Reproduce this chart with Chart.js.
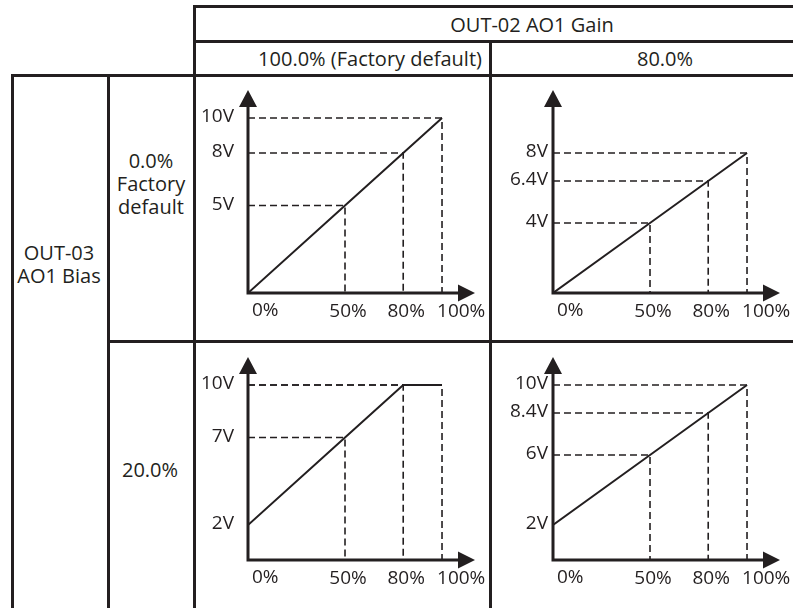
<!DOCTYPE html>
<html>
<head>
<meta charset="utf-8">
<script src="https://cdn.jsdelivr.net/npm/chart.js@4.4.1/dist/chart.umd.min.js"></script>
<style>
  body { margin: 0; background: #fff; }
  #page { position: relative; width: 793px; height: 608px; overflow: hidden; font-family: "Open Sans", sans-serif; color: #231f20; }
  .h, .v { position: absolute; background: #231f20; }
  .h { height: 3px; }
  .v { width: 3px; }
  .txt { position: absolute; font-size: 20px; line-height: 23px; text-align: center; transform: translate(-50%, -50%); white-space: nowrap; }
  canvas { position: absolute; }
</style>
</head>
<body>
<div id="page">
  <!-- table rules -->
  <div class="h" style="left:193px; top:5px; width:600px"></div>
  <div class="h" style="left:193px; top:40px; width:600px"></div>
  <div class="h" style="left:11px; top:74px; width:782px"></div>
  <div class="h" style="left:107px; top:340px; width:686px"></div>
  <div class="v" style="left:193px; top:5px; height:603px"></div>
  <div class="v" style="left:489px; top:40px; height:568px"></div>
  <div class="v" style="left:11px; top:74px; height:534px"></div>
  <div class="v" style="left:107px; top:74px; height:534px"></div>

  <!-- headings -->
  <div class="txt" style="left:532px; top:24px">OUT-02 AO1 Gain</div>
  <div class="txt" style="left:370px; top:58px">100.0% (Factory default)</div>
  <div class="txt" style="left:665px; top:58px">80.0%</div>
  <div class="txt" style="left:59px; top:264px">OUT-03<br>AO1 Bias</div>
  <div class="txt" style="left:151px; top:183px">0.0%<br>Factory<br>default</div>
  <div class="txt" style="left:150px; top:469px">20.0%</div>

  <canvas id="cA" width="292" height="263" style="left:196px; top:77px"></canvas>
  <canvas id="cB" width="301" height="263" style="left:492px; top:77px"></canvas>
  <canvas id="cC" width="292" height="265" style="left:196px; top:343px"></canvas>
  <canvas id="cD" width="301" height="265" style="left:492px; top:343px"></canvas>
</div>

<script>
// input signal (%) and the labels under the x axis
const inputPct = [0, 50, 80, 100];
const xTickLabels = ["0%", "50%", "80%", "100%"];
const guidePct = [50, 80, 100];

// AO1 output voltage (V) at each inputPct
const outGain100Bias0 = [0, 5, 8, 10];
const outGain80Bias0 = [0, 4, 6.4, 8];
const outGain100Bias20 = [2, 7, 10, 10];
const outGain80Bias20 = [2, 6, 8.4, 10];

// voltage labels on the y axis
const voltTicksA = [10, 8, 5];
const voltTicksB = [8, 6.4, 4];
const voltTicksC = [10, 7, 2];
const voltTicksD = [10, 8.4, 6, 2];

const INK = "#231f20";

const arrowAxes = {
  id: "arrowAxes",
  afterDatasetsDraw(chart, args, opts) {
    const { ctx, chartArea, scales: { x, y } } = chart;
    const x0 = x.getPixelForValue(0);
    const y0 = y.getPixelForValue(0);
    ctx.save();
    ctx.strokeStyle = INK;
    ctx.fillStyle = INK;
    ctx.lineWidth = 3;
    ctx.beginPath();
    ctx.moveTo(x0 - 1.5, y0);
    ctx.lineTo(chartArea.right - 12, y0);
    ctx.moveTo(x0, y0);
    ctx.lineTo(x0, chartArea.top + 12);
    ctx.stroke();
    // arrow heads
    ctx.beginPath();
    ctx.moveTo(chartArea.right, y0);
    ctx.lineTo(chartArea.right - 17, y0 - 8.5);
    ctx.lineTo(chartArea.right - 17, y0 + 8.5);
    ctx.closePath();
    ctx.moveTo(x0, chartArea.top);
    ctx.lineTo(x0 - 9, chartArea.top + 17);
    ctx.lineTo(x0 + 9, chartArea.top + 17);
    ctx.closePath();
    ctx.fill();

    // tick texts
    ctx.font = '19px "Open Sans"';
    ctx.textBaseline = "middle";
    ctx.textAlign = "right";
    opts.vTicks.forEach(v => {
      ctx.fillText(v + "V", x0 - opts.gap, y.getPixelForValue(v) - 1);
    });
    xTickLabels.forEach((t, i) => {
      const px = x.getPixelForValue(inputPct[i]);
      if (i === 0) {
        ctx.textAlign = "left";
        ctx.fillText(t, px + 4, y0 + 18);
      } else if (i === xTickLabels.length - 1) {
        ctx.textAlign = "left";
        ctx.fillText(t, px - 5, y0 + 19);
      } else {
        ctx.textAlign = "center";
        ctx.fillText(t, px + 3, y0 + 19);
      }
    });
    ctx.restore();
  }
};

function makePanel(id, values, vTicks, gap, padding) {
  const guides = guidePct.map(p => {
    const v = values[inputPct.indexOf(p)];
    return {
      data: [{ x: 0, y: v }, { x: p, y: v }, { x: p, y: 0 }],
      borderColor: INK,
      borderWidth: 1.6,
      borderDash: [7, 4],
      pointRadius: 0
    };
  });
  const main = {
    data: inputPct.map((p, i) => ({ x: p, y: values[i] })),
    borderColor: INK,
    borderWidth: 2,
    pointRadius: 0
  };
  return new Chart(document.getElementById(id), {
    type: "line",
    data: { datasets: [...guides, main] },
    options: {
      responsive: false,
      animation: false,
      layout: { padding: padding },
      scales: {
        x: { type: "linear", min: 0, max: 117, display: false },
        y: { type: "linear", min: 0, max: 11.6, display: false }
      },
      plugins: {
        legend: { display: false },
        tooltip: { enabled: false },
        arrowAxes: { vTicks: vTicks, gap: gap }
      }
    },
    plugins: [arrowAxes]
  });
}

makePanel("cA", outGain100Bias0, voltTicksA, 14, { left: 52, right: 13, top: 13, bottom: 47 });
makePanel("cB", outGain80Bias0, voltTicksB, 5, { left: 61, right: 13, top: 13, bottom: 47 });
makePanel("cC", outGain100Bias20, voltTicksC, 14, { left: 52, right: 13, top: 14, bottom: 48 });
makePanel("cD", outGain80Bias20, voltTicksD, 5, { left: 61, right: 13, top: 14, bottom: 48 });
</script>
</body>
</html>
